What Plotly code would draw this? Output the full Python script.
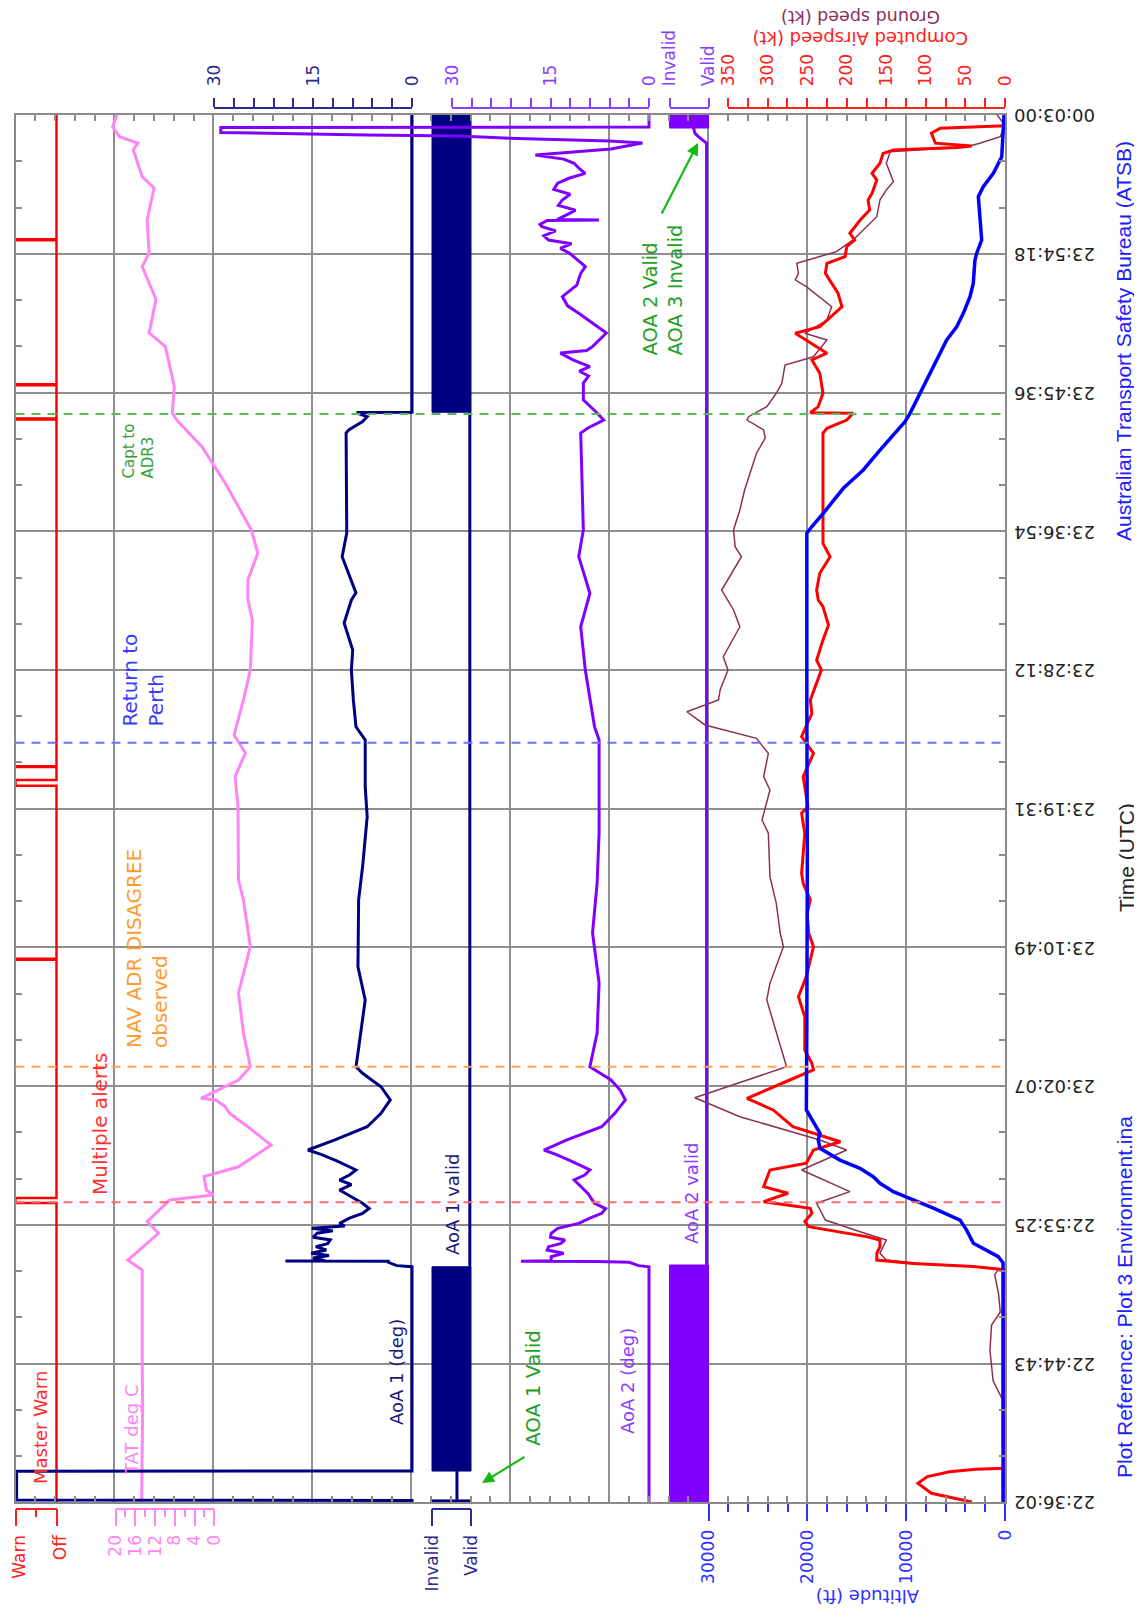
import plotly.graph_objects as go

# The page body keeps the browser's default 8px margin, so the figure is sized/placed
# to land on the same pixels as the reference.
PAGE_MARGIN = 8
W, H = 1142 - PAGE_MARGIN, 1612 - PAGE_MARGIN
FRAME_L, FRAME_R, FRAME_T, FRAME_B = 15.5, 1005.0, 115.0, 1502.0
TOP_AXIS_PY, BOTTOM_AXIS_PY = 107.5, 1508.5
TIME_LABEL_DROP = 6  # px: visual centring of the upside-down time labels on their ticks


def fx(px):
    return (px - PAGE_MARGIN) / W


def fy(py):
    return 1.0 - (py - PAGE_MARGIN) / H


# ------------------------------------------------------------------ data
TIME_TICK_LABELS = ["22:36:02", "22:44:43", "22:53:25", "23:02:07", "23:10:49", "23:19:31",
                    "23:28:12", "23:36:54", "23:45:36", "23:54:18", "00:03:00"]


def hms_to_sec(s):
    h, m, sec = (int(p) for p in s.split(":"))
    tot = h * 3600 + m * 60 + sec
    return tot + 86400 if h < 12 else tot


T0 = hms_to_sec(TIME_TICK_LABELS[0])
TIME_TICKS = [(hms_to_sec(s) - T0) / 60.0 for s in TIME_TICK_LABELS]   # minutes
T_END = TIME_TICKS[-1]
MINOR_TIME_TICKS = [a + (b - a) * k / 3.0 for a, b in zip(TIME_TICKS[:-1], TIME_TICKS[1:]) for k in (1, 2)]

# all times in minutes after 22:36:02
MW_WARN_START = [18.75, 34.00, 44.91, 46.08, 67.87, 70.02, 79.11]
MW_WARN_END = [19.06, 34.07, 45.27, 46.13, 67.93, 70.08, 79.17]

TAT = [(0.0, 14.7), (3.0, 14.6), (6.0, 14.5), (9.0, 14.6), (12.0, 14.6), (14.55, 14.6), (15.17, 17.5),
       (16.85, 11.3), (17.58, 13.6), (18.94, 9.0), (19.25, 0.2), (19.56, 1.6), (20.40, 2.1), (21.02, -4.9),
       (22.38, -11.5), (23.53, -6.8), (24.37, -3.1), (24.79, -2.2), (25.21, -0.3), (25.31, 2.7),
       (26.46, -4.9), (27.29, -7.3), (29.41, -5.9), (31.92, -4.9), (34.82, -7.3), (37.75, -5.9),
       (39.00, -4.9), (43.60, -4.8), (45.48, -4.2), (46.96, -6.3), (48.09, -4.0), (50.29, -5.9),
       (52.17, -7.3), (55.30, -7.7), (56.56, -6.8), (57.81, -6.8), (59.50, -8.8), (60.95, -7.5),
       (63.89, -2.2), (66.17, 2.5), (67.84, 7.6), (68.28, 8.5), (69.93, 8.1), (72.44, 9.9), (73.30, 13.2),
       (75.41, 11.8), (77.46, 14.6), (78.31, 13.2), (80.38, 13.6), (82.39, 12.2), (83.10, 14.6),
       (84.77, 16.4), (85.21, 15.5), (85.61, 19.2), (86.23, 20.6), (86.97, 19.7)]

# AoA 1 runs off the left of the scale (to the frame edge, ~60 deg) during power-up
AOA1 = [(0.0, 0.0), (0.10, 0.0), (0.12, 60.0), (1.93, 60.0), (1.95, 0.0), (14.75, 0.0), (14.82, 2.3),
        (15.03, 3.6), (15.10, 3.6), (15.11, 19.2), (15.13, 13.2), (15.30, 15.0), (15.45, 12.6),
        (15.60, 15.3), (15.80, 13.0), (16.01, 14.6), (16.20, 12.8), (16.43, 12.4), (16.60, 15.0),
        (16.85, 14.4), (17.00, 12.0), (17.16, 15.2), (17.30, 10.2), (17.47, 11.0), (17.80, 9.5),
        (18.10, 7.5), (18.40, 6.5), (18.73, 7.5), (19.10, 9.0), (19.56, 11.0), (19.90, 9.2),
        (20.19, 11.0), (20.50, 9.5), (20.82, 8.5), (21.40, 11.5), (21.80, 13.8), (22.07, 15.8),
        (22.70, 11.7), (23.53, 6.8), (24.37, 4.7), (25.21, 3.3), (26.04, 4.7), (26.88, 7.5),
        (27.29, 8.5), (28.15, 8.2), (31.48, 7.1), (33.56, 8.2), (35.68, 8.2), (37.75, 8.1),
        (39.83, 7.5), (42.97, 6.8), (44.85, 7.1), (47.78, 7.1), (48.61, 8.5), (50.29, 8.9),
        (52.17, 9.2), (53.42, 9.0), (55.11, 10.3), (56.56, 9.2), (57.00, 8.5), (58.25, 9.6),
        (59.27, 10.6), (60.76, 9.9), (64.00, 10.0), (67.03, 10.0), (67.22, 9.6), (67.74, 7.5),
        (68.05, 6.8), (68.26, 8.2), (68.32, 8.2), (68.33, 0.0), (86.97, 0.0)]

AOA2 = [(0.0, 0.0), (14.75, 0.0), (14.82, 1.6), (15.03, 3.0), (15.08, 7.9), (15.10, 19.5),
        (15.13, 14.9), (15.38, 14.9), (15.60, 13.0), (15.80, 15.5), (16.01, 15.3), (16.20, 13.5),
        (16.43, 12.8), (16.60, 15.0), (16.85, 14.9), (17.16, 13.9), (17.47, 10.7), (17.80, 9.0),
        (18.10, 7.2), (18.40, 6.6), (18.73, 8.3), (19.35, 9.3), (20.19, 11.4), (20.50, 9.8),
        (20.82, 9.0), (21.40, 12.0), (21.80, 14.2), (22.07, 16.0), (22.70, 12.5), (23.53, 7.2),
        (24.37, 5.2), (25.21, 3.6), (25.83, 4.4), (26.46, 5.8), (27.29, 9.0), (29.41, 7.9),
        (32.54, 7.6), (35.68, 8.6), (38.81, 7.9), (41.95, 7.6), (44.85, 7.6), (47.78, 7.6),
        (48.61, 8.3), (50.29, 9.0), (52.17, 9.7), (54.88, 10.4), (56.56, 9.3), (56.98, 9.0),
        (59.27, 10.7), (60.95, 10.0), (64.00, 10.2), (67.03, 10.4), (67.34, 9.3), (67.84, 6.9),
        (68.28, 7.9), (69.10, 10.0), (70.16, 10.0), (70.60, 9.2), (70.90, 10.6), (71.19, 9.0),
        (71.60, 11.5), (72.04, 13.5), (72.20, 9.5), (72.44, 8.6), (73.30, 6.5), (74.00, 8.8),
        (74.53, 10.7), (75.00, 12.4), (75.58, 13.2), (76.30, 11.0), (77.04, 10.4), (77.46, 9.7),
        (78.30, 12.1), (78.60, 13.5), (78.90, 11.8), (79.13, 15.3), (79.40, 16.0), (79.70, 14.2),
        (79.96, 16.3), (80.10, 16.6), (80.35, 15.5), (80.38, 7.6), (80.41, 14.0), (80.80, 12.1),
        (81.00, 11.2), (81.30, 13.8), (81.64, 13.2), (82.00, 12.0), (82.30, 14.5), (82.69, 13.9),
        (83.00, 12.2), (83.31, 9.7), (83.60, 10.6), (83.94, 11.4), (84.20, 13.0), (84.46, 17.3),
        (84.65, 12.0), (84.84, 5.8), (85.21, 1.0), (85.34, 6.0), (85.49, 20.0), (85.65, 29.0),
        (85.71, 43.0), (85.77, 52.0), (85.87, 65.2), (86.18, 65.2), (86.21, 0.0), (86.97, 0.0)]

# validity: 1 = Invalid, 0 = Valid ; bands = rapid toggling between the two states
AOA1_VALID_BANDS = [(0.0, 0.13), (1.94, 14.75), (68.33, 86.97)]
AOA1_VALID = [(0.13, 0.36), (1.94, 0.36), (None, None), (14.75, 0.03), (68.33, 0.03)]
AOA2_VALID_BANDS = [(0.0, 14.86), (86.15, 86.97)]
AOA2_VALID = [(14.86, 0.05), (85.20, 0.05), (85.61, 0.26), (85.83, 0.35), (86.13, 0.38), (86.15, 0.38)]

CAS = [(0.0, 42), (0.23, 65), (0.55, 93), (1.17, 110), (1.59, 98), (1.90, 70), (2.05, 37), (2.11, 0),
       (14.55, 0), (14.59, 6), (14.76, 40), (14.96, 116), (15.17, 162), (15.59, 162), (16.01, 158),
       (16.43, 158), (16.64, 175), (17.26, 248), (17.58, 253), (18.10, 244), (18.42, 246), (18.83, 305),
       (19.36, 274), (19.77, 305), (20.82, 297), (21.24, 251), (22.07, 242), (22.59, 208), (23.12, 242),
       (23.53, 268), (24.58, 293), (25.31, 326), (26.46, 272), (27.09, 242), (27.51, 244), (28.34, 253),
       (29.39, 253), (30.43, 253), (31.68, 261), (32.94, 251), (34.82, 242), (35.66, 248), (36.91, 250),
       (37.75, 246), (38.79, 255), (39.42, 257), (41.93, 253), (43.18, 257), (43.60, 249), (45.48, 255),
       (46.94, 242), (47.99, 257), (49.45, 244), (50.29, 246), (52.17, 232), (52.79, 238), (54.05, 230),
       (54.99, 223), (56.14, 230), (56.56, 236), (57.18, 238), (58.23, 234), (59.27, 221), (60.11, 230),
       (62.83, 230), (67.01, 230), (67.32, 225), (67.84, 200), (68.26, 192), (68.30, 246), (68.68, 236),
       (69.52, 230), (70.77, 234), (71.61, 244), (72.03, 225), (72.86, 251), (73.28, 265), (73.69, 234),
       (74.95, 206), (75.79, 211), (77.04, 227), (77.67, 225), (78.09, 202), (78.71, 200), (79.13, 190),
       (79.55, 196), (80.38, 183), (81.01, 171), (81.64, 173), (82.06, 168), (82.89, 162), (83.31, 168),
       (83.94, 158), (84.56, 154), (84.77, 141), (84.93, 60), (85.02, 42), (85.20, 88), (85.83, 93),
       (86.13, 82), (86.25, 14), (86.30, 0), (86.97, 0)]

GS = [(0.0, 0), (6.3, 2), (7.6, 15), (9.5, 19), (11.1, 17), (11.9, 6), (13.0, 8), (14.26, 13), (14.59, 8),
      (14.76, 40), (14.96, 110), (15.17, 150), (15.59, 158), (16.43, 150), (16.95, 183), (17.68, 227),
      (18.73, 238), (19.46, 196), (20.82, 257), (22.07, 200), (22.70, 234), (24.16, 335), (25.35, 392),
      (27.29, 276), (29.80, 291), (31.48, 301), (32.52, 297), (34.82, 280), (35.66, 284), (37.54, 289),
      (39.21, 297), (41.93, 299), (42.76, 307), (44.64, 297), (45.48, 305), (46.94, 299), (47.88, 314),
      (48.72, 379), (49.55, 402), (50.29, 362), (50.91, 360), (52.17, 350), (53.00, 356), (54.88, 335),
      (55.93, 343), (57.18, 358), (59.27, 333), (59.90, 341), (60.95, 343), (62.20, 335), (63.45, 329),
      (64.50, 322), (65.76, 314), (66.70, 303), (67.22, 305), (67.84, 326), (68.05, 324), (68.68, 301),
      (69.52, 289), (70.14, 282), (71.29, 278), (71.81, 242), (72.86, 225), (73.28, 253), (74.11, 225),
      (74.95, 219), (76.20, 251), (76.62, 265), (77.04, 261), (77.67, 263), (78.40, 213), (79.13, 192),
      (80.59, 162), (81.64, 158), (82.26, 150), (82.79, 141), (83.94, 150), (84.67, 145), (84.98, 48),
      (85.20, 32), (85.61, 6), (86.33, 0), (86.97, 10)]

ALT = [(0.0, 200), (15.0, 200), (15.38, 680), (16.22, 3200), (17.06, 3900), (17.68, 4550), (18.42, 7250),
       (19.04, 9600), (19.46, 11300), (19.98, 12650), (20.40, 13330), (20.92, 14670), (21.44, 16700),
       (22.18, 18720), (22.70, 18900), (23.12, 18720), (23.95, 19560), (24.58, 20100), (30.0, 20050),
       (40.0, 20000), (50.0, 20050), (60.74, 20050), (61.15, 19560), (61.99, 18390), (63.56, 16360),
       (64.71, 14340), (65.96, 12650), (66.90, 11300), (67.74, 10120), (68.26, 9610), (69.52, 8600),
       (70.35, 7930), (71.61, 6910), (72.86, 5900), (73.69, 4890), (74.53, 4220), (75.58, 3540),
       (76.41, 3210), (77.87, 3040), (78.30, 2860), (79.13, 2360), (80.59, 2530), (81.85, 2700),
       (82.47, 2200), (83.31, 1180), (84.35, 330), (85.81, 170), (86.97, 100)]

EVENT_TIMES = [18.79, 27.29, 47.61, 68.22]
EVENT_COLORS = ["#ff6a6a", "#ffa64d", "#7070ff", "#5cb85c"]

# ------------------------------------------------------------------ scales (value, pixel) pairs
SCALES = {
    "mw": (1.0, 15.5, 0.0, 56.5),
    "tat": (20.0, 115.5, 0.0, 214.3),
    "aoa1": (30.0, 214.3, 0.0, 412.0),
    "v1": (1.0, 432.0, 0.0, 471.0),
    "aoa2": (30.0, 452.0, 0.0, 649.0),
    "v2": (1.0, 669.5, 0.0, 708.5),
    "spd": (350.0, 728.0, 0.0, 1005.0),
    "alt": (30000.0, 708.5, 0.0, 1005.0),
}
KEYS = list(SCALES.keys())
DATA_AX = {k: i + 2 for i, k in enumerate(KEYS)}
DISP_AX = {k: i + 2 + len(KEYS) for i, k in enumerate(KEYS)}
LABEL_X = 2 + 2 * len(KEYS)  # hidden x axis carrying the time-label y axis


def frame_range(key):
    va, pa, vb, pb = SCALES[key]
    s = (vb - va) / (pb - pa)
    return [va + (FRAME_L - pa) * s, va + (FRAME_R - pa) * s]


GRID = "#8e8e8e"
FRAMEC = "#8a8a8a"
FONT = "DejaVu Sans"

fig = go.Figure()


def add_series(key, pairs, color, width):
    fig.add_trace(go.Scatter(
        x=[p[1] for p in pairs], y=[p[0] for p in pairs], mode="lines",
        line=dict(color=color, width=width), xaxis="x%d" % DATA_AX[key], yaxis="y",
        hoverinfo="skip", showlegend=False, connectgaps=False))


def add_bands(key, bands, color):
    for t0, t1 in bands:
        fig.add_trace(go.Scatter(
            x=[1, 0, 0, 1, 1], y=[t0, t0, t1, t1, t0], mode="lines", fill="toself",
            fillcolor=color, line=dict(color=color, width=1), xaxis="x%d" % DATA_AX[key], yaxis="y",
            hoverinfo="skip", showlegend=False))


# base subplot dummies
fig.add_trace(go.Scatter(x=[None], y=[None], xaxis="x", yaxis="y", showlegend=False, hoverinfo="skip"))
fig.add_trace(go.Scatter(x=[None], y=[None], xaxis="x%d" % LABEL_X, yaxis="y3", showlegend=False,
                         hoverinfo="skip"))

# Master warn step series
mw_pairs = [(0.0, 0)]
for a, b in zip(MW_WARN_START, MW_WARN_END):
    mw_pairs += [(a, 0), (a, 1), (b, 1), (b, 0)]
mw_pairs.append((T_END, 0))

add_series("tat", TAT, "#ff85f5", 3)
add_series("mw", mw_pairs, "#ff0000", 2.5)
add_bands("v1", AOA1_VALID_BANDS, "#000080")
add_series("v1", AOA1_VALID, "#000080", 3)
add_series("aoa1", AOA1, "#000080", 3)
add_bands("v2", AOA2_VALID_BANDS, "#8000ff")
add_series("v2", AOA2_VALID, "#8000ff", 3)
add_series("aoa2", AOA2, "#8000ff", 3)
add_series("alt", ALT, "#0000ff", 3.5)
add_series("spd", GS, "#8b3058", 1.5)
add_series("spd", CAS, "#ff0000", 3)

layout = dict(
    width=W, height=H, margin=dict(l=0, r=0, t=0, b=0, autoexpand=False),
    paper_bgcolor="white", plot_bgcolor="rgba(0,0,0,0)", showlegend=False, hovermode=False,
    font=dict(family=FONT, size=17),
)

layout["xaxis"] = dict(
    domain=[fx(FRAME_L), fx(FRAME_R)], range=[0, 10], tickmode="linear", tick0=0, dtick=1,
    showgrid=True, gridcolor=GRID, gridwidth=1.5, showticklabels=False, ticks="", zeroline=False,
    showline=True, linecolor=FRAMEC, linewidth=2, mirror="allticks", anchor="y",
    minor=dict(tick0=0, dtick=0.2, ticks="inside", ticklen=6, tickcolor=FRAMEC, tickwidth=1.5, showgrid=False),
)
layout["yaxis"] = dict(
    domain=[fy(FRAME_B), fy(FRAME_T)], range=[0, T_END], tickmode="array", tickvals=TIME_TICKS,
    side="right", anchor="x", showticklabels=False, showgrid=True, gridcolor=GRID, gridwidth=1.5,
    zeroline=False, showline=True, linecolor=FRAMEC, linewidth=2, mirror="allticks", ticks="",
    minor=dict(tickmode="array", tickvals=MINOR_TIME_TICKS, ticks="inside", ticklen=6, tickcolor=FRAMEC,
               tickwidth=1.5, showgrid=False),
)
layout["yaxis2"] = dict(domain=[fy(FRAME_B), fy(FRAME_T)], range=[0, T_END], visible=False, anchor="x")
# time labels: same time scale, drawn upside-down like the (rotated) original
layout["xaxis%d" % LABEL_X] = dict(domain=[fx(FRAME_L), fx(FRAME_R)], range=[0, 1], visible=False,
                                   anchor="y3", showgrid=False)
layout["yaxis3"] = dict(
    domain=[fy(FRAME_B + TIME_LABEL_DROP), fy(FRAME_T + TIME_LABEL_DROP)], range=[0, T_END],
    tickmode="array", tickvals=TIME_TICKS, ticktext=TIME_TICK_LABELS, side="right", anchor="x%d" % LABEL_X,
    tickangle=180, tickfont=dict(size=18, color="#222222", family=FONT), showgrid=False, zeroline=False,
    showline=False, ticks="", ticklabelstandoff=89, ticklabeloverflow="allow",
)

for k in KEYS:
    layout["xaxis%d" % DATA_AX[k]] = dict(overlaying="x", anchor="y", range=frame_range(k), visible=False)

# display (scale) axes
AOA_TICKS = list(range(0, 31, 3))
AOA_TEXT = [str(v) if v in (0, 15, 30) else "" for v in AOA_TICKS]
SPD_TICKS = list(range(0, 351, 25))
SPD_TEXT = [str(v) if v % 50 == 0 else "" for v in SPD_TICKS]
DISPLAY = [
    # key, side, color, major vals, major text, minor vals
    ("mw", "bottom", "#ff2020", [1, 0], ["Warn", "Off"], [0.5]),
    ("tat", "bottom", "#ff85f5", [20, 16, 12, 8, 4, 0], ["20", "16", "12", "8", "4", "0"], [18, 14, 10, 6, 2]),
    ("v1", "bottom", "#2b2b90", [1, 0], ["Invalid", "Valid"], []),
    ("alt", "bottom", "#3030ff", [30000, 20000, 10000, 0], ["30000", "20000", "10000", "0"],
     [28000, 26000, 24000, 22000, 18000, 16000, 14000, 12000, 8000, 6000, 4000, 2000]),
    ("aoa1", "top", "#2b2b90", AOA_TICKS, AOA_TEXT, []),
    ("aoa2", "top", "#8c3cff", AOA_TICKS, AOA_TEXT, []),
    ("v2", "top", "#8c3cff", [1, 0], ["Invalid", "Valid"], []),
    ("spd", "top", "#ff2020", SPD_TICKS, SPD_TEXT, []),
]

for key, side, color, vals, texts, minors in DISPLAY:
    va, pa, vb, pb = SCALES[key]
    n = DISP_AX[key]
    bottom = side == "bottom"
    pos_py = BOTTOM_AXIS_PY if bottom else TOP_AXIS_PY
    if key == "alt":
        pos_py = FRAME_B + 1
    ax = dict(
        domain=[fx(min(pa, pb)), fx(max(pa, pb))], range=[va, vb], anchor="free", position=fy(pos_py),
        side=side, showline=(key != "alt"), linecolor=color, linewidth=1.5, showgrid=False, zeroline=False,
        tickmode="array", tickvals=vals, ticktext=texts, ticks="outside", tickcolor=color, tickwidth=1.5,
        ticklen=17 if bottom else 9, tickangle=-90, tickfont=dict(size=17, color=color, family=FONT),
        ticklabelstandoff=2 if bottom else 8, ticklabeloverflow="allow",
    )
    if key == "mw":
        ax["ticklabelshift"] = -4
    if minors:
        ax["minor"] = dict(tickmode="array", tickvals=minors, ticks="outside", ticklen=8, tickcolor=color,
                           tickwidth=1.5, showgrid=False)
    layout["xaxis%d" % n] = ax
    fig.add_trace(go.Scatter(x=[None], y=[None], xaxis="x%d" % n, yaxis="y2", showlegend=False,
                             hoverinfo="skip"))

# event lines
shapes = []
for t, c in zip(EVENT_TIMES, EVENT_COLORS):
    shapes.append(dict(type="line", xref="paper", x0=fx(FRAME_L), x1=fx(FRAME_R), yref="y", y0=t, y1=t,
                       line=dict(color=c, width=2, dash="9px,7px"), layer="above"))
layout["shapes"] = shapes

# text labels (text, px, py, color, size, angle, family)
LABELS = [
    ("Master Warn", 40, 1428, "#ff2a2a", 18, -90, FONT),
    ("TAT deg C", 131, 1430, "#ff85f5", 18, -90, FONT),
    ("AoA 1 (deg)", 396, 1372, "#1a1a80", 18, -90, FONT),
    ("AoA 1 valid", 452, 1205, "#1a1a80", 18, -90, FONT),
    ("AoA 2 (deg)", 627, 1381, "#8c3cff", 18, -90, FONT),
    ("AoA 2 valid", 691, 1194, "#8c3cff", 18, -90, FONT),
    ("AOA 1 Valid", 533, 1388, "#22a022", 20, -90, FONT),
    ("Multiple alerts", 100, 1124, "#ff3333", 20, -90, FONT),
    ("NAV ADR DISAGREE<br>observed", 147, 949, "#ff9a2e", 20, -90, FONT),
    ("Return to<br>Perth", 142.5, 680, "#3a3aff", 20, -90, FONT),
    ("Capt to<br>ADR3", 139, 451.5, "#33a033", 15, -90, FONT),
    ("AOA 2 Valid<br>AOA 3 Invalid", 663, 290.5, "#22a022", 19.5, -90, FONT),
    ("Time (UTC)", 1126, 858, "#222222", 21, -90, "Liberation Sans"),
    ("Australian Transport Safety Bureau (ATSB)", 1124, 341, "#2020ff", 21, -90, "Liberation Sans"),
    ("Plot Reference: Plot 3 Environment.ina", 1124, 1297, "#2020ff", 21, -90, "Liberation Sans"),
    ("Ground speed (kt)", 861, 17, "#8b3058", 17.5, 180, FONT),
    ("Computed Airspeed (kt)", 860, 38.5, "#ff2020", 18, 180, FONT),
    ("Altitude (ft)", 868, 1597, "#3030ff", 18, 180, FONT),
]
annotations = []
for text, px, py, color, size, ang, fam in LABELS:
    annotations.append(dict(text=text, x=fx(px), y=fy(py), xref="paper", yref="paper", showarrow=False,
                            textangle=ang, font=dict(size=size, color=color, family=fam),
                            xanchor="center", yanchor="middle", align="left"))

# green arrows: (head px, head py, tail px, tail py)
ARROWS = [(482, 1483, 526, 1456), (698, 143, 661, 215)]
for hx, hy, tx, ty in ARROWS:
    annotations.append(dict(text="", x=fx(hx), y=fy(hy), xref="paper", yref="paper", showarrow=True,
                            ax=tx - hx, ay=ty - hy, axref="pixel", ayref="pixel", arrowhead=2,
                            arrowsize=1.1, arrowwidth=2.2, arrowcolor="#11bb11", standoff=0))
layout["annotations"] = annotations

fig.update_layout(**layout)
fig.write_html("out.html", config={"displayModeBar": False})
